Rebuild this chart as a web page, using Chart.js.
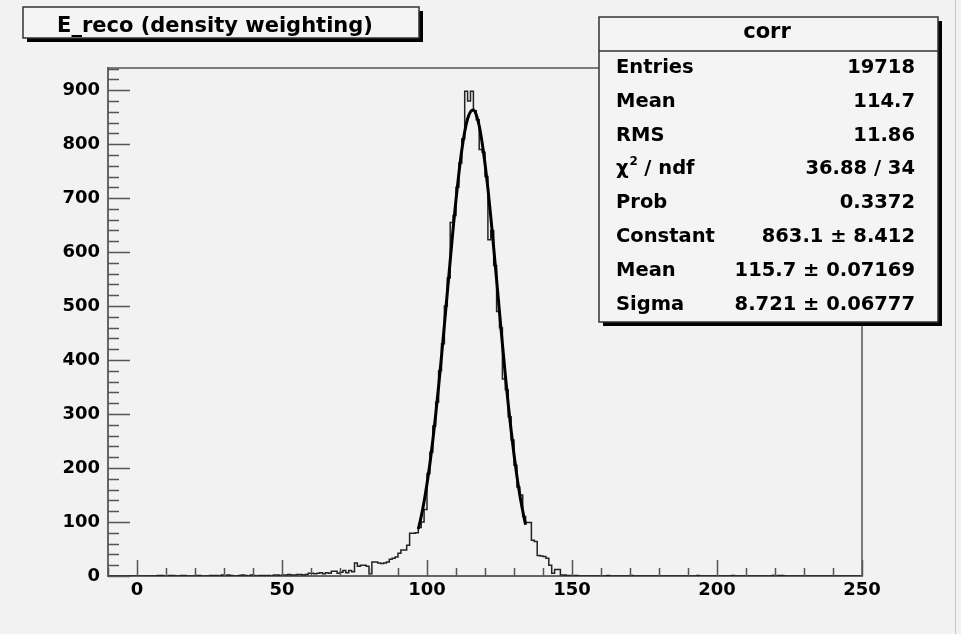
<!DOCTYPE html>
<html>
<head>
<meta charset="utf-8">
<script src="https://cdn.jsdelivr.net/npm/chart.js@4"></script>
<style>
  html, body { margin: 0; padding: 0; background: #f2f2f2; }
  #wrap { width: 961px; height: 634px; }
</style>
</head>
<body>
<div id="wrap"><canvas id="histo" width="961" height="634"></canvas></div>
<script>
// histogram: 1 unit bins from -10 to 250
const binLow = -10;
const binWidth = 1;
const counts = [
  0, 0, 0, 0, 0, 0, 0, 0, 0, 0,
  0, 0, 0, 0, 0, 0, 0, 1, 1, 0,
  0, 1, 1, 0, 0, 1, 1, 0, 0, 0,
  1, 1, 0, 0, 0, 1, 1, 1, 0, 2,
  0, 2, 1, 0, 0, 1, 2, 1, 0, 2,
  1, 0, 1, 1, 1, 1, 0, 2, 2, 1,
  2, 2, 3, 2, 2, 3, 3, 2, 3, 5,
  5, 4, 5, 6, 4, 6, 5, 9, 9, 5,
  7, 10, 6, 10, 8, 24, 18, 20, 20, 18,
  4, 26, 26, 24, 23, 24, 26, 31, 33, 35,
  42, 48, 48, 57, 79, 79, 80, 90, 100, 123,
  190, 229, 278, 322, 380, 430, 500, 552, 655, 668,
  720, 765, 810, 898, 880, 898, 862, 845, 790, 785,
  740, 623, 640, 575, 490, 460, 365, 345, 295, 252,
  205, 165, 150, 110, 99, 99, 66, 64, 38, 37,
  36, 33, 20, 5, 12, 12, 2, 2, 1, 1,
  1, 1, 0, 0, 0, 0, 0, 0, 0, 0,
  0, 0, 1, 0, 0, 0, 0, 0, 0, 0,
  1, 0, 0, 0, 0, 0, 0, 0, 0, 0,
  0, 0, 0, 0, 0, 0, 0, 0, 0, 0,
  0, 0, 0, 1, 0, 0, 0, 0, 0, 0,
  0, 0, 0, 0, 0, 1, 0, 0, 0, 0,
  0, 0, 0, 0, 0, 0, 0, 0, 0, 1,
  0, 1, 1, 0, 0, 0, 0, 0, 0, 0,
  0, 0, 0, 0, 0, 0, 0, 0, 0, 0,
  0, 0, 0, 0, 0, 0, 0, 0, 0, 0
];

// gaussian fit curve as drawn (fit range 97..134)
const fitX = [97, 98, 99, 100, 101, 102, 103, 104, 105, 106, 107, 108, 109, 110, 111, 112, 113, 114, 115,
  116, 117, 118, 119, 120, 121, 122, 123, 124, 125, 126, 127, 128, 129, 130, 131, 132, 133, 134];
const fitY = [87, 110, 138, 171, 208, 251, 299, 351, 407, 465, 525, 584, 643, 697, 746, 789, 823, 847, 860,
  863, 854, 834, 803, 764, 718, 665, 608, 549, 489, 430, 373, 319, 270, 225, 185, 150, 121, 95];

const xTickValues = [0, 50, 100, 150, 200, 250];
const yTickValues = [0, 100, 200, 300, 400, 500, 600, 700, 800, 900];

const titleText = 'E_reco (density weighting)';
const statName = 'corr';
const statLabels = ['Entries', 'Mean', 'RMS', 'chi2', 'Prob', 'Constant', 'Mean', 'Sigma'];
const statValues = ['19718', '114.7', '11.86', '36.88 / 34', '0.3372', '863.1 \u00B1 8.412', '115.7 \u00B1 0.07169', '8.721 \u00B1 0.06777'];

const FONT = 'DejaVu Sans';

const histPoints = counts.map((c, i) => ({ x: binLow + i * binWidth, y: c }));
histPoints.push({ x: binLow + counts.length * binWidth, y: 0 });
const fitPoints = fitX.map((x, i) => ({ x: x, y: fitY[i] }));

function drawBox(ctx, x0, y0, x1, y1) {
  ctx.fillStyle = '#000';
  ctx.fillRect(x0 + 4, y0 + 4, x1 - x0, y1 - y0);
  ctx.fillStyle = '#f4f4f4';
  ctx.fillRect(x0, y0, x1 - x0, y1 - y0);
  ctx.strokeStyle = '#333';
  ctx.lineWidth = 1.5;
  ctx.strokeRect(x0, y0, x1 - x0, y1 - y0);
}

const rootStyle = {
  id: 'rootStyle',
  beforeDraw(chart) {
    const ctx = chart.ctx;
    ctx.save();
    ctx.fillStyle = '#f2f2f2';
    ctx.fillRect(0, 0, chart.width, chart.height);
    ctx.restore();
  },
  afterDraw(chart) {
    const ctx = chart.ctx;
    const a = chart.chartArea;
    const xs = chart.scales.x, ys = chart.scales.y;
    ctx.save();

    // frame top + right
    ctx.strokeStyle = '#555';
    ctx.lineWidth = 1.5;
    ctx.beginPath();
    ctx.moveTo(a.left, a.top);
    ctx.lineTo(a.right, a.top);
    ctx.lineTo(a.right, a.bottom);
    ctx.stroke();

    // inward ticks
    ctx.strokeStyle = '#555';
    ctx.lineWidth = 1.5;
    ctx.beginPath();
    for (let v = 0; v <= ys.max; v += 20) {
      const py = Math.round(ys.getPixelForValue(v)) + 0.5;
      const len = v % 100 === 0 ? 22 : 11;
      ctx.moveTo(a.left, py);
      ctx.lineTo(a.left + len, py);
    }
    for (let v = xs.min; v <= xs.max; v += 10) {
      const px = Math.round(xs.getPixelForValue(v)) + 0.5;
      const len = v % 50 === 0 ? 16 : 8;
      ctx.moveTo(px, a.bottom);
      ctx.lineTo(px, a.bottom - len);
    }
    ctx.stroke();

    // title box
    drawBox(ctx, 23, 7, 419, 38);
    ctx.fillStyle = '#000';
    ctx.font = 'bold 21px "' + FONT + '"';
    ctx.textAlign = 'center';
    ctx.textBaseline = 'alphabetic';
    ctx.fillText(titleText, 215, 32);

    // stats box
    drawBox(ctx, 599, 17, 938, 322);
    ctx.strokeStyle = '#333';
    ctx.lineWidth = 1.5;
    ctx.beginPath();
    ctx.moveTo(599, 51);
    ctx.lineTo(938, 51);
    ctx.stroke();
    ctx.fillStyle = '#000';
    ctx.font = 'bold 21px "' + FONT + '"';
    ctx.textAlign = 'center';
    ctx.fillText(statName, 767, 38);

    ctx.font = 'bold 19.5px "' + FONT + '"';
    statLabels.forEach((lab, i) => {
      const by = 73 + i * 33.8;
      ctx.textAlign = 'left';
      if (lab === 'chi2') {
        ctx.fillText('\u03C7', 616, by);
        const w = ctx.measureText('\u03C7').width;
        ctx.font = 'bold 12px "' + FONT + '"';
        ctx.fillText('2', 616 + w + 1, by - 9);
        ctx.font = 'bold 19.5px "' + FONT + '"';
        ctx.fillText(' / ndf', 616 + w + 9, by);
      } else {
        ctx.fillText(lab, 616, by);
      }
      ctx.textAlign = 'right';
      ctx.fillText(statValues[i], 915, by);
    });

    // window edge
    ctx.strokeStyle = '#c8c8c8';
    ctx.lineWidth = 1;
    ctx.beginPath();
    ctx.moveTo(955.5, 0);
    ctx.lineTo(955.5, chart.height);
    ctx.stroke();
    ctx.restore();
  }
};

const tickFont = { family: FONT, weight: 'bold', size: 18 };

new Chart(document.getElementById('histo'), {
  type: 'line',
  data: {
    datasets: [
      {
        label: 'fit',
        data: fitPoints,
        borderColor: '#000',
        borderWidth: 3,
        pointRadius: 0,
        fill: false,
        cubicInterpolationMode: 'monotone'
      },
      {
        label: 'E_reco',
        data: histPoints,
        borderColor: '#222',
        borderWidth: 1.5,
        pointRadius: 0,
        fill: false,
        stepped: 'before'
      }
    ]
  },
  options: {
    responsive: false,
    animation: false,
    devicePixelRatio: 1,
    layout: { padding: { top: 68, right: 99, left: 0, bottom: 0 } },
    plugins: { legend: { display: false }, tooltip: { enabled: false } },
    scales: {
      x: {
        type: 'linear',
        min: -10,
        max: 250,
        afterBuildTicks: s => { s.ticks = xTickValues.map(v => ({ value: v })); },
        afterFit: s => { s.height = 58; },
        grid: { display: false, drawTicks: false },
        border: { display: true, color: '#666', width: 2 },
        ticks: { font: tickFont, color: '#000', padding: 4, maxRotation: 0, autoSkip: false }
      },
      y: {
        type: 'linear',
        min: 0,
        max: 941,
        afterBuildTicks: s => { s.ticks = yTickValues.map(v => ({ value: v })); },
        afterFit: s => { s.width = 108; },
        grid: { display: false, drawTicks: false },
        border: { display: true, color: '#666', width: 2 },
        ticks: { font: tickFont, color: '#000', padding: 8, autoSkip: false }
      }
    }
  },
  plugins: [rootStyle]
});
</script>
</body>
</html>
